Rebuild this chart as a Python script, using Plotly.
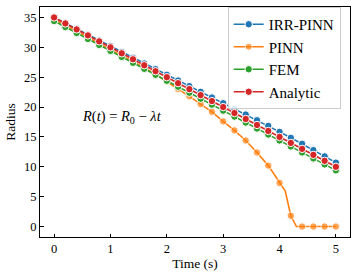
import plotly.graph_objects as go

# ---- data ----
t = [0.0, 0.2, 0.4, 0.6, 0.8, 1.0, 1.2, 1.4, 1.6, 1.8, 2.0, 2.2, 2.4,
     2.6, 2.8, 3.0, 3.2, 3.4, 3.6, 3.8, 4.0, 4.2, 4.4, 4.6, 4.8, 5.0]
analytic = [35, 34, 33, 32, 31, 30, 29, 28, 27, 26, 25, 24, 23,
            22, 21, 20, 19, 18, 17, 16, 15, 14, 13, 12, 11, 10]
irr_pinn = [35.0, 34.05, 33.1, 32.1, 31.15, 30.2, 29.2, 28.25, 27.3, 26.35,
            25.4, 24.45, 23.5, 22.55, 21.6, 20.65, 19.7, 18.75, 17.8, 16.85,
            15.85, 14.85, 13.85, 12.8, 11.75, 10.7]
fem = [34.4, 33.4, 32.4, 31.4, 30.4, 29.4, 28.4, 27.4, 26.4, 25.4, 24.4,
       23.4, 22.4, 21.4, 20.4, 19.4, 18.4, 17.4, 16.4, 15.4, 14.4, 13.4,
       12.4, 11.4, 10.4, 9.4]
t_pinn = [0.0, 0.2, 0.4, 0.6, 0.8, 1.0, 1.2, 1.4, 1.6, 1.8, 2.0, 2.2, 2.4,
          2.6, 2.8, 3.0, 3.2, 3.4, 3.6, 3.8, 4.0, 4.1, 4.2, 4.3, 4.4, 4.6,
          4.8, 5.0]
pinn = [34.7, 33.7, 32.7, 31.7, 30.7, 29.7, 28.7, 27.7, 26.6, 25.5, 24.3,
        23.0, 21.8, 20.5, 19.2, 17.6, 16.1, 14.4, 12.4, 10.2, 7.3, 6.0, 1.8,
        0.0, 0.0, 0.0, 0.0, 0.0]

x_ticks = [0, 1, 2, 3, 4, 5]
y_ticks = [0, 5, 10, 15, 20, 25, 30, 35]

names = ["IRR-PINN", "PINN", "FEM", "Analytic"]
colors = ["#1f77b4", "#ff7f0e", "#2ca02c", "#d62728"]

MS = 7.4
FONT = "Liberation Serif, Times New Roman, serif"

fig = go.Figure()


def add(name, xs, ys, color):
    on_grid = [abs(x * 5 - round(x * 5)) < 1e-6 for x in xs]
    if all(on_grid):
        size, lw = MS, 1.0
    else:
        size = [MS if g else 0 for g in on_grid]
        lw = [1.0 if g else 0 for g in on_grid]
    fig.add_trace(go.Scatter(
        x=xs, y=ys, name=name, mode="lines+markers",
        line=dict(color=color, width=1.6),
        marker=dict(size=size, color=color, symbol="circle",
                    line=dict(color="white", width=lw)),
    ))


add(names[0], t, irr_pinn, colors[0])
add(names[1], t_pinn, pinn, colors[1])
add(names[2], t, fem, colors[2])
add(names[3], t, analytic, colors[3])

fig.add_annotation(
    x=1.2, y=18.3, xref="x", yref="y", showarrow=False,
    text="<i>R</i>(<i>t</i>) = <i>R</i><sub>0</sub> − <i>λt</i>",
    font=dict(family=FONT, size=14.5, color="black"),
)

axis_common = dict(
    showgrid=False, zeroline=False, showline=True, mirror=True,
    linecolor="black", linewidth=1, ticks="inside", ticklen=3.5,
    tickwidth=1, tickcolor="black",
    tickfont=dict(family=FONT, size=12.5, color="black"),
)

fig.update_xaxes(range=[-0.25, 5.25], tickvals=x_ticks,
                 title=dict(text="Time (s)", font=dict(family=FONT, size=13.5, color="black"), standoff=3),
                 **axis_common)
fig.update_yaxes(range=[-1.75, 36.75], tickvals=y_ticks,
                 title=dict(text="Radius", font=dict(family=FONT, size=13.5, color="black"), standoff=5),
                 **axis_common)

fig.update_layout(
    width=357, height=278,
    margin=dict(l=40, r=7, t=7, b=41),
    paper_bgcolor="white", plot_bgcolor="white",
    showlegend=True,
    legend=dict(
        x=0.97, y=1.0, xanchor="right", yanchor="top",
        bgcolor="rgba(255,255,255,0.85)", bordercolor="#cccccc", borderwidth=1,
        font=dict(family=FONT, size=15, color="black"),
        itemwidth=30,
    ),
)

fig.write_html("out.html", config={"displayModeBar": False},
               post_script="document.body.style.margin='0px';")
